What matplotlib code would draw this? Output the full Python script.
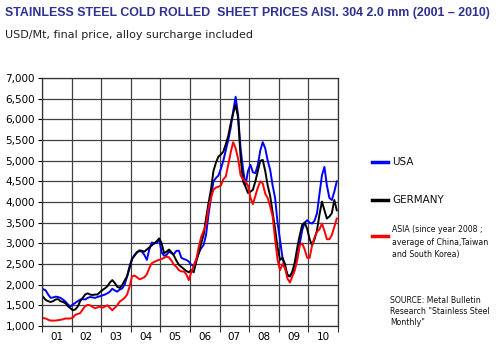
import matplotlib.pyplot as plt
import numpy as np

# monthly prices, USD/Mt, Jan 2001 .. Dec 2010
usa = [1890, 1860, 1760, 1680, 1690, 1710, 1700, 1680, 1640, 1590, 1520, 1470,
       1520, 1560, 1600, 1640, 1650, 1640, 1680, 1700, 1690, 1680, 1700, 1720,
       1740, 1760, 1790, 1830, 1900, 1860, 1830, 1880, 1910, 2000, 2200, 2450,
       2620, 2720, 2790, 2810, 2800, 2720, 2600, 2850, 3020, 3000, 3010, 3100,
       2780, 2700, 2720, 2800, 2760, 2740, 2820, 2820, 2650, 2620, 2600, 2560,
       2480, 2450, 2600, 2760, 2880, 2960, 3200, 3700, 4100, 4500, 4580, 4640,
       4800, 5000, 5250, 5500, 5800, 6200, 6550, 6100, 5300, 4800, 4400, 4750,
       4900, 4720, 4700, 4900, 5250, 5450, 5300, 5000, 4780, 4400, 4100, 3500,
       3080, 2650, 2400, 2250, 2200, 2280, 2450, 2680, 3000, 3320, 3500, 3560,
       3500, 3480, 3550, 3730, 4200, 4650, 4850, 4400, 4100, 4050, 4250, 4500]
germany = [1700, 1630, 1600, 1580, 1600, 1640, 1650, 1600, 1580, 1550, 1480, 1430,
           1380, 1400, 1470, 1600, 1680, 1760, 1790, 1760, 1750, 1760, 1760, 1820,
           1870, 1910, 1960, 2050, 2110, 2040, 1950, 1920, 1990, 2100, 2200, 2400,
           2620, 2700, 2780, 2830, 2820, 2800, 2850, 2900, 2950, 3000, 3050, 3120,
           3000, 2760, 2800, 2850, 2780, 2700, 2580, 2480, 2430, 2380, 2330, 2300,
           2350, 2300, 2550, 2760, 3000, 3200, 3600, 3970, 4300, 4750, 4950, 5100,
           5150, 5220, 5400, 5600, 5900, 6150, 6350, 6050, 5100, 4500, 4370, 4220,
           4250, 4300, 4500, 4750, 5000, 5020, 4750, 4400, 4150, 3750, 3350, 2900,
           2600, 2650, 2500, 2220, 2200, 2320, 2550, 2900, 3200, 3450, 3500, 3350,
           3100, 2950, 3100, 3320, 3700, 4010, 3800, 3600, 3650, 3730, 4050, 3800]
asia = [1190, 1180, 1150, 1130, 1130, 1130, 1140, 1150, 1160, 1180, 1180, 1180,
        1200, 1270, 1290, 1310, 1400, 1480, 1510, 1500, 1460, 1430, 1450, 1470,
        1440, 1470, 1500, 1440, 1380, 1440, 1500, 1590, 1630, 1680, 1760, 1950,
        2200, 2220, 2180, 2130, 2150, 2180, 2250, 2400, 2520, 2550, 2580, 2600,
        2620, 2650, 2680, 2660, 2580, 2480, 2430, 2350, 2320, 2320, 2250, 2110,
        2300, 2450, 2600, 2900, 3150, 3300, 3450, 3850, 4100, 4300, 4350, 4370,
        4400, 4550, 4620, 4900, 5200, 5450, 5300, 5050, 4650, 4550, 4500, 4400,
        4100, 3950, 4150, 4350, 4500, 4450, 4200, 4100, 3900, 3650, 3100, 2600,
        2350, 2500, 2400, 2150, 2050, 2200, 2350, 2600, 2950, 3000, 2850, 2650,
        2650, 2950, 3150, 3280, 3340, 3480, 3300, 3100, 3100, 3200, 3400, 3600]
years = ['01', '02', '03', '04', '05', '06', '07', '08', '09', '10']
series_names = ['USA', 'GERMANY',
                'ASIA (since year 2008 ;\naverage of China,Taiwan\nand South Korea)']
series_colors = ['#0000ff', '#000000', '#ff0000']

t = 2001 + (np.arange(len(usa)) + 0.5) / 12

fig = plt.figure(figsize=(5, 3.52), dpi=100)
fig.patch.set_facecolor('white')
ax = fig.add_axes([0.084, 0.074, 0.592, 0.704])

for vals, col in zip([usa, germany, asia], series_colors):
    ax.plot(t, vals, color=col, lw=1.4, solid_joinstyle='round')

ax.set_xlim(2001, 2011)
ax.set_ylim(1000, 7000)
ax.set_yticks(np.arange(1000, 7001, 500))
ax.set_yticklabels([f'{v:,}' for v in range(1000, 7001, 500)])
ax.set_xticks(np.arange(2001, 2012))
ax.set_xticklabels([])
ax.set_xticks(np.arange(2001, 2011) + 0.5, minor=True)
ax.set_xticklabels(years, minor=True)
ax.tick_params(axis='x', which='minor', length=0, pad=4, labelsize=7.5)
ax.tick_params(axis='x', which='major', length=4, width=0.8, color='#333333')
ax.tick_params(axis='y', length=3, width=0.8, labelsize=7.5, pad=2)
ax.grid(True, which='major', color='#404040', lw=0.9)
ax.set_axisbelow(True)
for s in ax.spines.values():
    s.set_color('#333333')
    s.set_linewidth(0.9)

fig.text(0.01, 0.963, 'STAINLESS STEEL COLD ROLLED  SHEET PRICES AISI. 304 2.0 mm (2001 \u2013 2010)',
         family=['Liberation Sans', 'DejaVu Sans'], fontweight='bold',
         fontsize=8.9, color='#2e3192', va='center', ha='left')
fig.text(0.01, 0.9, 'USD/Mt, final price, alloy surcharge included',
         fontsize=8, color='#222222', va='center', ha='left')

# legend drawn by hand at the right
leg_y = [1 - 162 / 352, 1 - 200 / 352, 1 - 236 / 352]
for name, col, y in zip(series_names, series_colors, leg_y):
    fig.add_artist(plt.Line2D([0.744, 0.776], [y, y], color=col, lw=2.5,
                              transform=fig.transFigure))
    if '\n' in name:
        fig.text(0.784, y + 0.03, name, fontsize=5.6, va='top', ha='left',
                 linespacing=1.45, color='#111111')
    else:
        fig.text(0.784, y, name, fontsize=7.5, va='center', ha='left',
                 color='#111111')

fig.text(0.78, 0.115, 'SOURCE: Metal Bulletin\nResearch "Stainless Steel\nMonthly"',
         fontsize=5.6, va='center', ha='left', linespacing=1.35, color='#111111')

fig.savefig('out.png', dpi=100, facecolor='white')
